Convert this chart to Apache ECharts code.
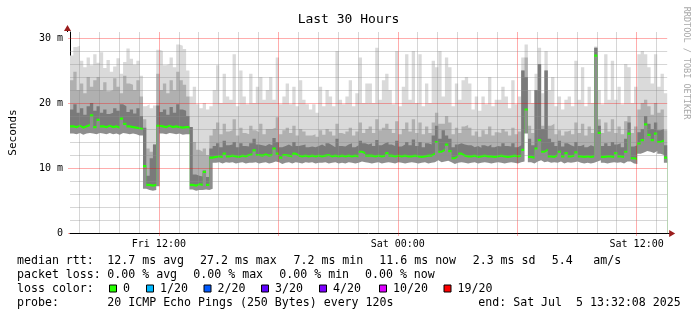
<!DOCTYPE html>
<html>
<head>
<meta charset="utf-8">
<script src="https://cdn.jsdelivr.net/npm/echarts@6/dist/echarts.min.js"></script>
<style>
html, body { margin: 0; padding: 0; background: #fff; }
#chart { width: 697px; height: 321px; }
</style>
</head>
<body>
<div id="chart"></div>
<script>
// hours counted from Fri 00:00, one value per 10 minute bin
var startHour = 7 + 32 / 60 + 8 / 3600
var spanHours = 30
var binHours = 1 / 6

// median rtt in ms
var median = [
  16.4, 16.3, 16.5, 16.2, 16.4, 16.6,
  18.1, 16.3, 17.4, 16.4, 16.3, 16.5,
  16.3, 16.4, 16.2, 17.6, 16.8, 16.4,
  16.3, 16.2, 16.1, 16.0, 10.3, 7.4,
  7.3, 7.4, 16.5, 16.4, 16.3, 16.5,
  16.3, 16.4, 16.3, 16.2, 16.3, 16.3,
  7.4, 7.3, 7.5, 7.4, 9.4, 7.4,
  11.6, 11.7, 11.8, 11.7, 12.2, 11.8,
  11.9, 11.8, 11.7, 11.9, 11.8, 12.0,
  12.1, 12.7, 12.0, 11.9, 12.1, 11.9,
  12.0, 13.0, 12.2, 11.6, 12.0, 11.9,
  11.8, 12.2, 11.9, 11.8, 11.9, 11.8,
  11.9, 11.8, 11.9, 11.8, 11.9, 12.0,
  11.8, 11.9, 11.8, 11.9, 11.8, 11.9,
  11.8, 11.9, 11.8, 12.5, 12.3, 11.9,
  11.9, 11.8, 11.9, 11.8, 11.9, 12.3,
  11.9, 11.8, 11.9, 11.8, 11.9, 11.8,
  11.8, 11.9, 11.8, 11.7, 11.8, 11.9,
  11.9, 12.2, 14.0, 12.5, 12.8, 13.6,
  12.6, 11.5, 11.8, 12.2, 11.9, 11.8,
  11.8, 11.9, 11.7, 11.8, 11.9, 11.8,
  11.8, 11.7, 11.8, 11.9, 11.8, 11.7,
  11.8, 11.9, 11.8, 11.9, 12.8, 19.0,
  11.7, 11.6, 13.0, 14.3, 12.5, 12.8,
  11.8, 11.7, 12.0, 12.5, 11.8, 12.3,
  11.8, 11.9, 12.4, 11.8, 11.7, 11.8,
  11.7, 11.8, 27.3, 15.4, 11.7, 11.8,
  11.8, 11.7, 12.3, 11.8, 11.7, 12.5,
  15.3, 11.5, 11.4, 13.8, 14.3, 16.7,
  15.1, 14.3, 15.3, 14.0, 14.2, 11.6
]

// fastest ping of each bin
var smokeLow = [
  15.3, 15.2, 15.4, 15.1, 15.3, 15.4,
  15.3, 15.2, 15.4, 15.3, 15.2, 15.4,
  15.2, 15.3, 15.1, 15.4, 15.3, 15.2,
  15.3, 15.2, 15.0, 15.0, 6.8, 6.6,
  6.5, 6.6, 7.2, 15.3, 15.2, 15.4,
  15.3, 15.2, 15.3, 15.1, 15.2, 15.2,
  6.7, 6.5, 6.6, 6.6, 6.7, 6.6,
  6.8, 10.8, 10.9, 10.7, 10.9, 10.8,
  10.9, 10.7, 10.8, 10.9, 10.7, 10.8,
  10.8, 10.9, 10.7, 10.8, 10.9, 10.7,
  10.8, 11.0, 10.9, 10.6, 10.8, 10.9,
  10.7, 10.9, 10.8, 10.7, 10.9, 10.8,
  10.9, 10.7, 10.8, 10.8, 10.9, 10.7,
  10.8, 10.9, 10.7, 10.8, 10.7, 10.9,
  10.8, 10.7, 10.8, 11.0, 10.9, 10.8,
  10.7, 10.8, 10.9, 10.7, 10.8, 10.9,
  10.8, 10.7, 10.9, 10.8, 10.7, 10.8,
  10.9, 10.8, 10.7, 10.8, 10.9, 10.7,
  10.8, 10.9, 11.2, 10.9, 11.0, 11.1,
  10.9, 10.6, 10.8, 10.9, 10.8, 10.7,
  10.8, 10.9, 10.7, 10.8, 10.9, 10.8,
  10.7, 10.8, 10.9, 10.8, 10.7, 10.8,
  10.9, 10.8, 10.7, 10.9, 11.0, 15.3,
  10.9, 10.7, 11.0, 11.2, 10.9, 11.0,
  10.8, 10.9, 10.8, 11.0, 10.7, 10.9,
  10.8, 10.9, 11.0, 10.8, 10.7, 10.8,
  10.7, 10.8, 11.0, 11.2, 10.8, 10.7,
  10.8, 10.9, 10.8, 10.9, 10.7, 11.0,
  11.0, 10.7, 10.6, 12.2, 12.4, 12.6,
  12.5, 12.3, 12.6, 12.2, 12.0, 10.8
]

// top of the dense dark smoke
var smokeDark = [
  19.0, 19.8, 18.5, 19.2, 18.2, 19.5,
  20.0, 18.8, 19.5, 18.5, 19.0, 18.3,
  18.5, 19.2, 18.8, 19.8, 19.5, 18.6,
  19.0, 18.4, 19.2, 18.0, 16.2, 8.8,
  11.5, 13.6, 19.6, 18.6, 19.0, 18.2,
  19.4, 18.5, 19.8, 19.0, 18.8, 18.0,
  16.3, 9.0, 8.8, 8.7, 9.6, 8.6,
  13.0, 13.4, 13.8, 13.2, 14.2, 13.5,
  13.6, 14.0, 13.2, 13.8, 13.4, 13.3,
  13.8, 14.5, 13.6, 13.5, 13.4, 13.7,
  13.5, 14.6, 14.0, 13.2, 13.4, 13.6,
  13.3, 14.0, 13.4, 13.5, 13.6, 13.2,
  13.3, 13.2, 13.4, 13.6, 13.3, 13.8,
  13.5, 13.2, 14.5, 13.4, 13.3, 13.6,
  13.8, 13.2, 13.5, 14.2, 13.8, 13.6,
  13.8, 13.4, 14.3, 13.5, 13.8, 14.0,
  13.6, 13.4, 14.2, 13.3, 13.6, 14.0,
  13.5, 14.4, 13.4, 14.0, 13.2, 13.8,
  13.6, 15.0, 16.5, 14.5, 15.8, 15.0,
  14.5, 13.2, 13.6, 13.8, 13.6, 13.5,
  13.5, 13.2, 13.4, 13.1, 13.5, 13.3,
  13.6, 13.2, 13.4, 13.3, 13.8, 13.4,
  13.3, 13.8, 13.2, 13.5, 25.0, 24.0,
  14.5, 13.5, 22.0, 26.0, 16.0, 25.0,
  14.5, 14.0, 13.4, 14.2, 13.3, 13.8,
  13.5, 13.3, 14.0, 13.4, 13.6, 13.2,
  13.5, 13.3, 28.5, 16.5, 13.4, 13.8,
  13.4, 14.0, 13.6, 13.8, 13.2, 14.5,
  17.0, 13.3, 13.5, 15.5, 16.0, 18.0,
  16.8, 16.0, 17.0, 15.8, 16.0, 13.5
]

// top of the medium smoke
var smokeMid = [
  23.5, 24.8, 22.0, 23.0, 21.5, 24.0,
  22.5, 23.5, 24.0, 22.0, 23.2, 21.8,
  22.0, 23.8, 22.5, 21.5, 24.2, 23.0,
  22.8, 22.0, 23.5, 21.0, 17.5, 13.0,
  12.5, 13.5, 24.5, 22.0, 23.0, 21.5,
  23.5, 22.0, 24.8, 23.5, 22.8, 21.0,
  13.5, 14.0, 12.8, 12.5, 13.0, 12.0,
  15.0, 16.0, 17.0, 15.2, 16.8, 15.6,
  15.8, 17.5, 15.0, 16.2, 15.4, 15.2,
  16.5, 15.8, 15.5, 16.8, 15.2, 16.0,
  16.0, 16.2, 17.8, 15.2, 15.8, 16.2,
  15.4, 16.5, 15.0, 16.0, 15.6, 15.0,
  15.0, 15.2, 14.8, 15.8, 15.1, 16.0,
  15.6, 15.0, 16.8, 15.4, 15.2, 15.6,
  16.2, 15.0, 15.6, 17.0, 15.4, 16.0,
  16.4, 15.4, 17.5, 15.8, 16.2, 16.8,
  16.0, 15.4, 17.2, 15.2, 16.0, 17.0,
  15.6, 17.5, 15.4, 17.0, 15.2, 16.4,
  15.4, 17.0, 18.5, 16.8, 16.8, 18.0,
  17.0, 15.2, 16.2, 15.4, 16.4, 16.6,
  16.2, 15.0, 15.6, 14.8, 15.8, 15.2,
  16.4, 15.0, 15.5, 15.4, 16.0, 15.6,
  15.0, 16.2, 15.2, 15.6, 20.0, 27.0,
  16.5, 15.4, 19.0, 21.0, 16.5, 20.0,
  16.5, 16.8, 15.2, 15.8, 15.0, 15.6,
  15.8, 15.2, 17.0, 15.4, 16.8, 15.0,
  16.4, 15.4, 28.3, 17.5, 15.4, 17.0,
  15.6, 17.5, 15.4, 16.4, 15.2, 17.2,
  18.0, 15.4, 16.4, 19.0, 20.0, 20.5,
  19.5, 18.2, 20.0, 18.5, 19.0, 15.8
]

// slowest ping of each bin
var smokeHigh = [
  27.3, 28.6, 28.8, 26.5, 25.5, 27.0,
  25.8, 27.5, 26.2, 27.8, 25.4, 26.6,
  24.8, 25.6, 26.9, 24.5, 26.3, 28.4,
  26.8, 25.9, 26.5, 24.2, 19.5, 19.8,
  19.2, 19.6, 28.2, 28.0, 25.8, 26.0,
  27.0, 25.5, 29.0, 28.8, 28.3, 25.0,
  21.0, 22.5, 19.8, 19.2, 20.0, 19.0,
  19.5, 22.0, 25.8, 20.0, 24.5, 21.0,
  20.5, 27.5, 19.5, 25.0, 21.0, 19.8,
  24.5, 20.0, 22.5, 24.0, 20.5, 22.0,
  24.0, 20.5, 27.0, 19.8, 21.0, 23.0,
  19.8, 22.5, 19.5, 23.5, 20.5, 19.8,
  19.0, 19.8, 18.5, 22.5, 19.5, 22.0,
  21.0, 19.5, 28.0, 20.5, 19.8, 21.0,
  23.5, 19.5, 21.5, 27.0, 20.0, 23.0,
  23.0, 20.0, 28.5, 20.5, 23.5, 24.5,
  22.0, 19.8, 28.0, 19.5, 22.5, 27.5,
  20.5, 28.0, 20.0, 27.5, 19.5, 23.0,
  20.0, 26.5, 25.5, 28.0, 21.0, 27.0,
  25.5, 19.5, 23.0, 20.5, 23.5, 24.0,
  23.0, 19.0, 21.0, 18.8, 21.0, 19.8,
  24.0, 19.5, 20.5, 20.5, 22.5, 21.0,
  19.2, 23.5, 19.8, 21.0, 27.0, 29.0,
  22.0, 20.0, 24.5, 28.5, 21.5, 28.0,
  22.0, 24.0, 19.5, 21.0, 19.0, 20.5,
  21.0, 19.5, 26.5, 20.5, 25.5, 19.5,
  22.5, 20.0, 28.7, 22.0, 19.8, 27.5,
  20.5, 26.5, 20.5, 22.5, 19.8, 26.0,
  25.5, 20.0, 22.5, 27.5, 28.0, 27.5,
  25.5, 23.0, 27.5, 22.5, 24.5, 21.5
]

var yMax = 30.92
var yLabelValues = [0, 10, 20, 30]
var xLabelHours = [12, 24, 36]
var xLabelNames = ['Fri 12:00', 'Sat 00:00', 'Sat 12:00']

var lossLabels = ['0', '1/20', '2/20', '3/20', '4/20', '10/20', '19/20']
var lossColors = ['#26ff00', '#00b8ff', '#0059ff', '#5e00ff', '#7e00ff', '#dd00ff', '#ff0000']

var mono = "'DejaVu Sans Mono', monospace"
var gridLeft = 67.2, gridTop = 32, gridWidth = 600, gridHeight = 201
var minorColor = 'rgba(140,140,140,0.36)'
var majorColor = 'rgba(255,0,0,0.32)'
var endHour = startHour + spanHours

// cumulative tops per bin: low, below median, green median, dark, mid, light
var greenHalf = 0.17
var tops = median.map(function (m, i) {
  var t0 = smokeLow[i]
  var t1 = Math.max(t0, m - greenHalf)
  var t2 = Math.max(t1, m + greenHalf)
  var t3 = Math.max(t2, smokeDark[i])
  var t4 = Math.max(t3, smokeMid[i])
  var t5 = Math.max(t4, smokeHigh[i])
  return [t0, t1, t2, t3, t4, t5]
})

// each bin held flat over its 10 minutes
function layer(k) {
  var out = []
  tops.forEach(function (t, i) {
    var x0 = startHour + i * binHours
    out.push([x0, t[k]])
    out.push([x0 + binHours, t[k]])
  })
  return out
}

// painted back to front, the white layer clears everything below the fastest ping
var layers = [
  { k: 5, color: '#dadada' },
  { k: 4, color: '#b0b0b0' },
  { k: 3, color: '#7a7a7a' },
  { k: 2, color: '#26ff00' },
  { k: 1, color: '#8e8e8e' },
  { k: 0, color: '#ffffff' }
]
var series = layers.map(function (l) {
  return {
    type: 'line',
    data: layer(l.k),
    symbol: 'none',
    silent: true,
    lineStyle: { width: 0, opacity: 0 },
    areaStyle: { color: l.color, opacity: 1 },
    z: 2
  }
})

// grid lines drawn over the smoke like rrdtool does
var gridMarks = []
for (var h = Math.ceil(startHour); h < endHour; h++) {
  gridMarks.push({ xAxis: h, lineStyle: { color: h % 6 === 0 ? majorColor : minorColor } })
}
for (var v = 2; v <= 30; v += 2) {
  gridMarks.push({ yAxis: v, lineStyle: { color: v % 10 === 0 ? majorColor : minorColor } })
}
series.push({
  type: 'line',
  data: [],
  silent: true,
  z: 10,
  markLine: {
    silent: true,
    symbol: ['none', 'none'],
    label: { show: false },
    animation: false,
    lineStyle: { type: 'solid', width: 1 },
    data: gridMarks
  }
})

// legend text rows: [text, x]
var rowY = [260.7, 275, 288.7, 303]
var statsRow = [['median rtt:', 17], ['12.7 ms avg', 107.3], ['27.2 ms max', 200], ['7.2 ms min', 293.5],
  ['11.6 ms now', 379.3], ['2.3 ms sd', 472.7], ['5.4', 551.7], ['am/s', 593.3]]
var lossRow = [['packet loss:', 17], ['0.00 % avg', 107.3], ['0.00 % max', 193.3], ['0.00 % min', 279.3], ['0.00 % now', 365]]
var probeRow = [['probe:', 17], ['20 ICMP Echo Pings (250 Bytes) every 120s', 107.3], ['end: Sat Jul  5 13:32:08 2025', 478.3]]
var boxX = [109.5, 146.5, 204, 261.5, 319.5, 379.5, 444]

var legendFont = '11.6px ' + mono
function txt(s, x, y) {
  return { type: 'text', x: x, y: y, silent: true,
    style: { text: s, font: legendFont, fill: '#000', align: 'left', verticalAlign: 'middle' } }
}
var graphics = []
statsRow.forEach(function (t) { graphics.push(txt(t[0], t[1], rowY[0])) })
lossRow.forEach(function (t) { graphics.push(txt(t[0], t[1], rowY[1])) })
graphics.push(txt('loss color:', 17, rowY[2]))
lossLabels.forEach(function (l, i) {
  graphics.push({ type: 'rect', silent: true,
    shape: { x: boxX[i], y: rowY[2] - 3.7, width: 7, height: 7 },
    style: { fill: lossColors[i], stroke: '#000', lineWidth: 1 } })
  graphics.push(txt(l, boxX[i] + 13.5, rowY[2]))
})
probeRow.forEach(function (t) { graphics.push(txt(t[0], t[1], rowY[3])) })

graphics.push({ type: 'text', x: 686.5, y: 63, rotation: -Math.PI / 2, silent: true,
  style: { text: 'RRDTOOL / TOBI OETIKER', font: '8.5px ' + mono, fill: '#a8a8a8', align: 'center', verticalAlign: 'middle' } })

// axis arrows
var plotRight = gridLeft + gridWidth, plotBottom = gridTop + gridHeight
graphics.push({ type: 'line', silent: true, shape: { x1: plotRight, y1: plotBottom + 0.5, x2: plotRight + 3, y2: plotBottom + 0.5 }, style: { stroke: '#000', lineWidth: 1 } })
graphics.push({ type: 'polygon', silent: true, shape: { points: [[plotRight + 2, plotBottom - 3], [plotRight + 8, plotBottom + 0.5], [plotRight + 2, plotBottom + 4]] }, style: { fill: '#9b1c1c' } })
graphics.push({ type: 'line', silent: true, shape: { x1: gridLeft + 0.3, y1: gridTop, x2: gridLeft + 0.3, y2: gridTop - 2 }, style: { stroke: '#000', lineWidth: 1 } })
graphics.push({ type: 'polygon', silent: true, shape: { points: [[gridLeft - 3.2, gridTop - 1], [gridLeft + 0.3, gridTop - 7], [gridLeft + 3.8, gridTop - 1]] }, style: { fill: '#9b1c1c' } })

var chart = echarts.init(document.getElementById('chart'))
chart.setOption({
  animation: false,
  backgroundColor: '#fff',
  title: {
    text: 'Last 30 Hours',
    left: 'center',
    top: 8,
    textStyle: { fontFamily: mono, fontSize: 13, fontWeight: 'normal', color: '#000' }
  },
  grid: { left: gridLeft, top: gridTop, width: gridWidth, height: gridHeight },
  xAxis: {
    type: 'value',
    min: startHour,
    max: endHour,
    splitLine: { show: false },
    axisLine: { lineStyle: { color: '#000', width: 1 } },
    axisTick: { customValues: [12, 18, 24, 30, 36], length: 3, lineStyle: { color: majorColor } },
    axisLabel: {
      customValues: xLabelHours,
      formatter: function (val) { return xLabelNames[xLabelHours.indexOf(val)] || '' },
      fontFamily: mono, fontSize: 10, color: '#000', margin: 6
    }
  },
  yAxis: {
    type: 'value',
    min: 0,
    max: yMax,
    splitLine: { show: false },
    axisLine: { show: true, lineStyle: { color: '#000', width: 1 } },
    axisTick: { customValues: yLabelValues, length: 2, lineStyle: { color: majorColor } },
    axisLabel: {
      customValues: yLabelValues,
      formatter: function (val) { return val === 0 ? '0' : val + ' m' },
      fontFamily: mono, fontSize: 10, color: '#000', margin: 7
    },
    name: 'Seconds',
    nameLocation: 'middle',
    nameGap: 51,
    nameRotate: 90,
    nameTextStyle: { fontFamily: mono, fontSize: 11, color: '#000' }
  },
  series: series,
  graphic: graphics
})
</script>
</body>
</html>
